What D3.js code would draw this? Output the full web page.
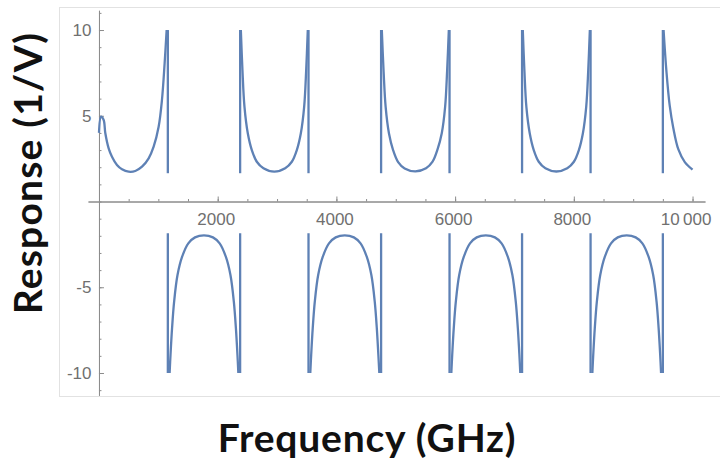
<!DOCTYPE html>
<html>
<head>
<meta charset="UTF-8">
<title>Response</title>
<script src="https://cdn.jsdelivr.net/npm/d3@7"></script>
<style>
	body { margin: 0; background: #fff; }
</style>
</head>
<body>
	<div id="chart"></div>
	<script type="text/javascript">
		// tick values and labels
		var xMajor = [2000, 4000, 6000, 8000, 10000];
		var xLabels = ["2000", "4000", "6000", "8000", "10\u2009000"];
		var yMajor = [-10, -5, 5, 10];
		var yLabels = ["-10", "-5", "5", "10"];

		// poles of the response (GHz), with the clipped jump drawn at each
		var asymptotes = [1160, 2378, 3530, 4753, 5906, 7128, 8282, 9500];
		var posJump = [1.65, 10];
		var negJump = [-1.85, -10];

		// positive branches [GHz, 1/V]
		var posArch0 = [[0, 4.0], [35, 4.95], [79, 4.75], [107, 3.98], [163, 3.1], [219, 2.61], [303, 2.13], [388, 1.88], [500, 1.74], [612, 1.78], [725, 2.03], [837, 2.52], [921, 3.2], [1005, 4.36], [1061, 5.92], [1106, 8.06], [1140, 10]];
		var posArch1 = [[2390, 10], [2417, 7.67], [2451, 5.53], [2507, 3.98], [2575, 3.0], [2659, 2.32], [2771, 1.94], [2954, 1.74], [3137, 1.94], [3249, 2.32], [3333, 3.0], [3401, 3.98], [3457, 5.53], [3491, 7.67], [3518, 10]];
		var posArch2 = [[4765, 10], [4795, 7.6], [4830, 5.5], [4885, 3.98], [4955, 3.0], [5040, 2.3], [5150, 1.93], [5330, 1.76], [5510, 1.94], [5620, 2.32], [5705, 3.05], [5775, 3.98], [5832, 5.53], [5866, 7.67], [5894, 10]];
		var posArch3 = [[7140, 10], [7167, 7.67], [7201, 5.5], [7257, 3.98], [7325, 3.0], [7409, 2.32], [7521, 1.94], [7705, 1.75], [7889, 1.94], [8001, 2.32], [8085, 3.0], [8153, 3.98], [8209, 5.53], [8243, 7.67], [8270, 10]];
		var posArch4 = [[9512, 10], [9560, 7.6], [9615, 5.6], [9675, 4.3], [9760, 3.05], [9870, 2.3], [10000, 1.86]];

		// negative branches [GHz, 1/V]
		var negArch0 = [[1190, -10], [1205, -8.95], [1231, -7.4], [1266, -5.84], [1323, -4.29], [1401, -3.22], [1505, -2.44], [1618, -2.09], [1769, -1.97], [1920, -2.09], [2033, -2.44], [2137, -3.22], [2215, -4.29], [2272, -5.84], [2307, -7.4], [2333, -8.95], [2348, -10]];
		var negArch1 = [[3560, -10], [3575, -8.95], [3601, -7.4], [3636, -5.84], [3693, -4.29], [3771, -3.22], [3875, -2.44], [3988, -2.09], [4141, -1.97], [4294, -2.09], [4407, -2.44], [4511, -3.22], [4589, -4.29], [4646, -5.84], [4681, -7.4], [4707, -8.95], [4723, -10]];
		var negArch2 = [[5936, -10], [5951, -8.95], [5977, -7.4], [6012, -5.84], [6069, -4.29], [6147, -3.22], [6251, -2.44], [6364, -2.09], [6517, -1.97], [6670, -2.09], [6783, -2.44], [6887, -3.22], [6965, -4.29], [7022, -5.84], [7057, -7.4], [7083, -8.95], [7098, -10]];
		var negArch3 = [[8312, -10], [8327, -8.95], [8353, -7.4], [8388, -5.84], [8445, -4.29], [8523, -3.22], [8627, -2.44], [8740, -2.09], [8891, -1.97], [9042, -2.09], [9155, -2.44], [9259, -3.22], [9337, -4.29], [9394, -5.84], [9429, -7.4], [9455, -8.95], [9470, -10]];

		var arches = [posArch0, posArch1, posArch2, posArch3, posArch4, negArch0, negArch1, negArch2, negArch3];

		var width = 720, height = 464;
		var svg = d3.select("#chart").append("svg").attr("width", width).attr("height", height);

		// faint frame of the pasted plot
		var frame = svg.append("g").attr("stroke", "#e2e2e2").attr("stroke-width", 1);
		frame.append("line").attr("x1", 59).attr("x2", 720).attr("y1", 7.5).attr("y2", 7.5);
		frame.append("line").attr("x1", 59).attr("x2", 720).attr("y1", 396.5).attr("y2", 396.5);
		frame.append("line").attr("x1", 59.5).attr("x2", 59.5).attr("y1", 7.5).attr("y2", 396.5);

		var x = d3.scaleLinear().domain([-185, 10210]).range([88, 705]);
		var y = d3.scaleLinear().domain([-11.3, 11.15]).range([395.3, 10.3]);

		var axisColor = "#8c8c8c";
		var labelColor = "#707070";

		// x axis (ticks point up, labels below)
		var gx = svg.append("g").attr("transform", "translate(0," + y(0) + ")");
		gx.call(d3.axisBottom(x).tickValues(d3.range(500, 10001, 500)).tickFormat("").tickSizeInner(-2.5).tickSizeOuter(0));
		gx.append("g").call(d3.axisBottom(x).tickValues(xMajor).tickFormat(function(d, i) {
			return xLabels[i];
		}).tickSizeInner(-5).tickSizeOuter(0).tickPadding(11));
		gx.selectAll(".domain").attr("stroke", axisColor);
		gx.selectAll(".tick line").attr("stroke", axisColor);
		gx.selectAll(".tick text").attr("fill", labelColor).attr("font-family", "Liberation Sans, Arial, sans-serif").attr("font-size", 17)
			.attr("dx", function(d) {
				return d === 10000 ? -7 : -2;
			});

		// y axis (ticks point right, labels left)
		var gy = svg.append("g").attr("transform", "translate(" + x(0) + ",0)");
		gy.call(d3.axisLeft(y).tickValues(d3.range(-11, 12, 1)).tickFormat("").tickSizeInner(-2.5).tickSizeOuter(0));
		gy.append("g").call(d3.axisLeft(y).tickValues(yMajor).tickFormat(function(d, i) {
			return yLabels[i];
		}).tickSizeInner(-5).tickSizeOuter(0).tickPadding(7.5));
		gy.selectAll(".domain").attr("stroke", axisColor);
		gy.selectAll(".tick line").attr("stroke", axisColor);
		gy.selectAll(".tick text").attr("fill", labelColor).attr("font-family", "Liberation Sans, Arial, sans-serif").attr("font-size", 17);

		var blue = "#5e81b5";

		// jumps at each pole
		var jumps = svg.append("g").attr("stroke", blue).attr("stroke-width", 2.3);
		asymptotes.forEach(function(a) {
			jumps.append("line").attr("x1", x(a)).attr("x2", x(a)).attr("y1", y(posJump[0])).attr("y2", y(posJump[1]));
			jumps.append("line").attr("x1", x(a)).attr("x2", x(a)).attr("y1", y(negJump[0])).attr("y2", y(negJump[1]));
		});

		var line = d3.line().x(function(d) {
			return x(d[0]);
		}).y(function(d) {
			return y(d[1]);
		}).curve(d3.curveCatmullRom.alpha(0.5));

		svg.append("g").selectAll("path").data(arches).enter().append("path")
			.attr("fill", "none").attr("stroke", blue).attr("stroke-width", 2.3)
			.attr("stroke-linejoin", "round").attr("d", line);

		// axis titles
		svg.append("text").attr("x", 367).attr("y", 452).attr("text-anchor", "middle")
			.attr("font-family", "Lato, sans-serif").attr("font-weight", "bold").attr("font-size", 39)
			.attr("letter-spacing", 0.8).attr("fill", "#111").text("Frequency (GHz)");
		svg.append("text").attr("transform", "translate(42,173) rotate(-90)").attr("text-anchor", "middle")
			.attr("font-family", "Lato, sans-serif").attr("font-weight", "bold").attr("font-size", 39)
			.attr("letter-spacing", 1.2).attr("fill", "#111").text("Response (1/V)");
	</script>
</body>
</html>
